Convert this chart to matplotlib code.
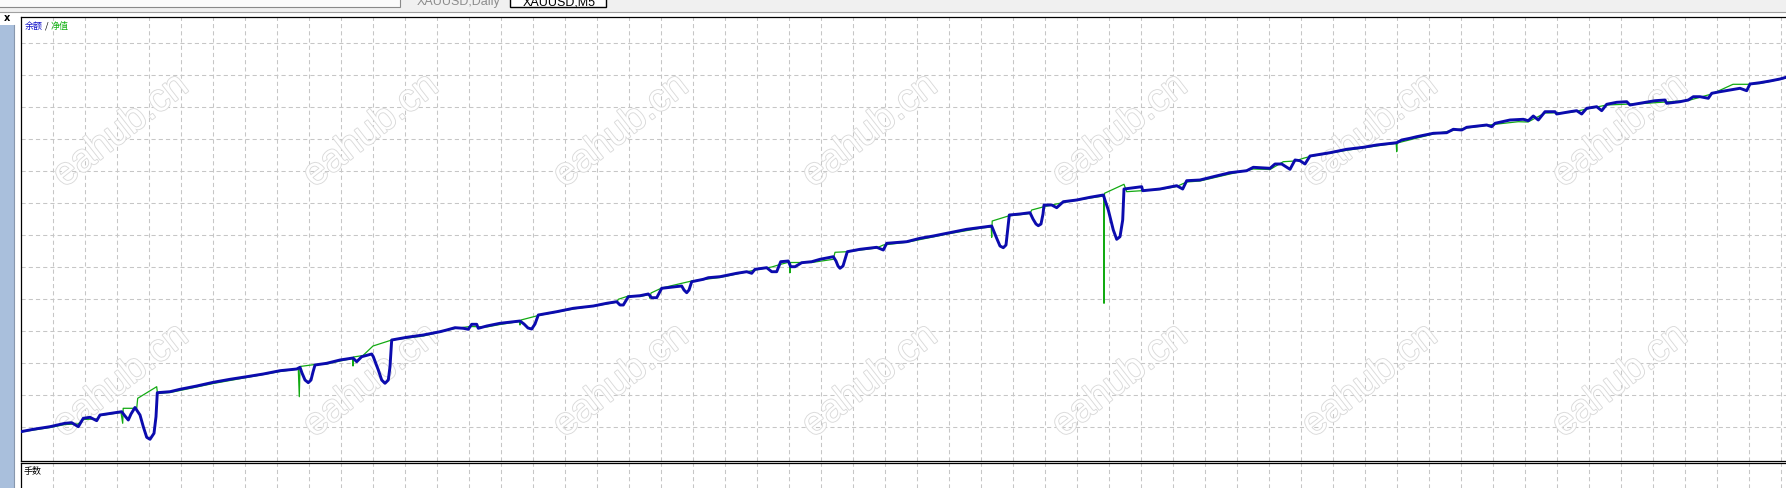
import numpy as np
import matplotlib.pyplot as plt
import matplotlib.patheffects as pe
from matplotlib.patches import Rectangle

W, H = 1786, 488

# balance curve (blue): bar position / balance level
bal_x = [20.7, 33.3, 50, 65, 71.7, 78.3, 83.3, 90, 96.7, 100, 113, 121.7, 125, 128.3, 131,
         135, 140, 143.3, 146.7, 150, 154, 156, 157.3, 170, 180, 196.7, 213.3, 230, 246.7,
         263.3, 280, 296.7, 300, 302, 305, 308.3, 311, 313, 315, 326.7, 340, 353, 356.7,
         361.7, 371.7, 373.3, 378.3, 381.7, 385, 388.3, 390, 391.7, 406.7, 423.3, 440,
         446.7, 455, 463.3, 468.3, 471.7, 476.7, 478.3, 486.7, 500, 520, 524, 528, 531.7,
         535, 538.3, 556.7, 573.3, 593.3, 606.7, 616.7, 620, 623.3, 628.3, 640, 648.3,
         651.7, 656.7, 661.7, 681.7, 684, 686.7, 689, 691.7, 703.3, 708.3, 720, 736.7,
         746.7, 751.7, 755, 766.7, 771.7, 776.7, 780.7, 788.3, 790.7, 795, 801.7, 811.7,
         820, 833.3, 836, 838, 840, 843, 847.3, 860, 876.7, 883.3, 886.7, 906.7, 920,
         933.3, 950, 966.7, 981.7, 991.7, 996.7, 1000, 1003.3, 1006, 1007.3, 1009.3, 1020,
         1030, 1033, 1036, 1038.3, 1041, 1043, 1044, 1051.7, 1056.7, 1063.3, 1076.7, 1090,
         1103.3, 1108.3, 1113.3, 1116.7, 1120, 1122.7, 1124, 1141.7, 1142.7, 1160, 1176.7,
         1182.7, 1186.7, 1200, 1213.3, 1230, 1246.7, 1253.3, 1270, 1275, 1281.7, 1290,
         1295, 1300, 1305, 1310, 1330, 1346.7, 1363.3, 1376.7, 1385, 1396.7, 1401.7, 1410,
         1416.7, 1433.3, 1446.7, 1453.3, 1461.7, 1466.7, 1486.7, 1491.7, 1495, 1510,
         1523.3, 1528.3, 1533.3, 1538.3, 1545, 1555, 1556.7, 1570, 1576.7, 1581.7, 1586.7,
         1596.7, 1601.7, 1606.7, 1616.7, 1626.7, 1630, 1643.3, 1655, 1665, 1666.7, 1680,
         1688.3, 1693.3, 1700, 1708.3, 1711.7, 1720, 1730, 1740, 1746.7, 1750, 1760, 1770,
         1780, 1786]
bal_y = [28.3, 30.7, 33.3, 36.7, 37.3, 33.3, 41.7, 42.7, 39.3, 45, 47, 48.3, 44, 40, 46,
         52.5, 45, 33.3, 22.7, 20.7, 26.7, 43.3, 67.3, 68.3, 70.7, 74, 77.7, 80.7, 83.3,
         86, 89.3, 91, 92.7, 87, 80, 77.3, 80, 88, 95, 96.7, 100, 102, 98.3,
         103.3, 106, 103.3, 90, 80, 76.7, 80, 93.3, 120, 122.7, 125, 128.3,
         130, 132.3, 131.7, 130.7, 135.7, 135.7, 131.7, 134, 136.7, 139, 136, 132, 131,
         136, 145, 148.3, 151.7, 154, 156.7, 158.3, 155, 155, 163.3, 164.3, 166,
         162.3, 162.3, 171.7, 174, 170, 167.3, 170, 178.3, 180.7, 182.3, 183.3, 186.7,
         188.3, 186.7, 190.7, 192.3, 188.3, 188.3, 198.3, 199, 193.3, 193.3, 197.3, 198.3,
         200.7, 203.3, 199, 194, 191.7, 194, 208.3, 210.7, 212.7, 210, 216.7, 218.3, 221.7,
         224, 227.3, 230.7, 232.7, 234, 221.7, 214, 212.3, 215, 226.7, 245, 246,
         247.3, 241, 236, 234.3, 236, 246, 255, 255, 252.3, 258.3, 260, 262.7,
         265, 250, 230, 220.7, 223.3, 240, 271, 273.3, 269.3, 271, 274.3,
         271, 279.3, 280, 283.3, 287.3, 289.3, 292.7, 291.7, 296, 296, 290.7,
         300, 299.3, 296, 304, 307.3, 310.7, 312.7, 315, 316, 317.3, 320, 321.7,
         323.3, 326.7, 327.3, 330.7, 330, 332.7, 335, 333.3, 336.7, 340,
         340.7, 339.3, 344, 340, 348.3, 348.3, 346, 348.3, 349.3, 346, 351.7,
         353.3, 349.3, 355.7, 357.7, 358.3, 355, 357.3, 359.3, 360, 356.7, 358.3,
         360, 363.3, 363.3, 361.7, 366.7, 368.3, 370, 371.7, 369.3, 376, 377.3, 379,
         381, 382.7]

# equity curve (green)
eq_x = [20.7, 50, 65, 78, 83.3, 96.7, 100, 121, 122.7, 123.2, 136.7, 137.7, 156.7, 157.5,
        170, 180, 213.3, 246.7, 280, 298.3, 299.3, 300, 315, 326.7, 340, 352.5, 353, 353.5,
        363, 373, 391.7, 423.3, 455, 470, 486.7, 500, 519.5, 520, 521, 538.3, 573.3, 606.7,
        617, 618.3, 628.3, 640, 649.5, 650, 651, 661.7, 681.7, 691.7, 720, 736.7, 755,
        771.7, 780, 789.5, 790, 790.5, 811.7, 833.3, 835, 847.3, 876.7, 883.3, 906.7, 950,
        981.7, 991.2, 991.7, 992.2, 1008.3, 1030, 1031.7, 1044, 1063.3, 1090, 1103.8, 1104,
        1104.5, 1124, 1126.7, 1141.7, 1160, 1176.7, 1186.7, 1200, 1230, 1253.3, 1270,
        1283.3, 1295, 1303.3, 1310, 1346.7, 1385, 1396.2, 1396.7, 1397.2, 1433.3, 1466.7,
        1495, 1518.3, 1528, 1545, 1570, 1606.7, 1643.3, 1688.3, 1711.7, 1733, 1748, 1760,
        1786]
eq_y = [28, 32.5, 35.5, 36, 40.5, 41, 44.5, 47.5, 36.7, 51.7, 51.7, 61.7, 73.3, 66.5,
        67.5, 69.5, 76.5, 82.5, 88.5, 91, 63.3, 93.5, 95.5, 96, 99, 101.5, 94, 103,
        104.5, 114, 120, 124, 131.5, 133.5, 133, 135.5, 138.5, 135, 140, 144.5, 151, 156,
        158, 160.7, 164, 163.5, 165.5, 161.7, 167, 172, 176.7, 179, 182.5, 186, 190,
        193, 195.5, 198, 187.3, 197.5, 197.5, 200.7, 207.7, 208.3, 212, 215, 217.7, 226.5,
        232, 233, 222.7, 239, 244, 246.5, 250, 253.3, 257.5, 262, 264, 156.7,
        266.7, 275.7, 268.3, 269.3, 270.5, 273.5, 278, 279, 286, 291, 290.5,
        298.3, 299, 301.7, 303.5, 309.7, 315.3, 316.5, 308.3, 317, 326, 332,
        335.7, 338.3, 338, 347, 347.5, 355, 356.5, 359.5, 366, 375.7, 375.7, 376.5,
        382]

legend_parts = ["余额", "/", "净值"]
sub_label = "手数"
tab_labels = ["XAUUSD,Daily", "XAUUSD,M5"]
watermark = "eahub.cn"

CJK = ["Noto Sans CJK SC", "DejaVu Sans"]
plt.rcParams["lines.scale_dashes"] = False

fig = plt.figure(figsize=(W / 100, H / 100), dpi=100)

# background layer in pixel coordinates (window chrome)
bg = fig.add_axes([0, 0, 1, 1])
bg.set_xlim(0, W)
bg.set_ylim(H, 0)
bg.axis("off")

bg.add_patch(Rectangle((0, 0), W, 12.3, color="#f0f0f0", lw=0))
bg.plot([0, W], [12.3, 12.3], color="#a0a0a0", lw=0.8)
bg.add_patch(Rectangle((-2, -5), 402, 11.7, fc="#fbfbfb", ec="#8a8a8a", lw=0.8))
bg.add_patch(Rectangle((510, -5), 96, 11.7, fc="white", ec="black", lw=1.0))
bg.text(417, 5.5, tab_labels[0], color="#8c8c8c", fontsize=9, family="Liberation Sans",
        va="baseline")
bg.text(523, 5.5, tab_labels[1], color="black", fontsize=9, family="Liberation Sans",
        va="baseline")

bg.add_patch(Rectangle((0, 25), 13.5, H - 25, fc="#a9bfdc", lw=0))
bg.plot([14.2, 14.2], [25, H], color="#8797ad", lw=0.8)
bg.text(6.5, 18, "x", fontsize=7, fontweight="bold", ha="center", va="center",
        family="DejaVu Sans")

# main equity panel
L, T, B = 20.7, 16.7, 460.5
ax = fig.add_axes([L / W, 1 - B / H, 1 - L / W, (B - T) / H])
ax.set_xlim(L, W)
ax.set_ylim(460 - B, 460 - T)
ax.set_xticks(np.arange(52.7, W, 32))
ax.set_yticks(np.arange(32.7, 443, 32))
ax.tick_params(length=0, labelbottom=False, labelleft=False)
ax.grid(True, color="#c6c6c6", linestyle=(0, (3, 2.2)), linewidth=0.75)
ax.set_axisbelow(True)
for side in ["left", "top", "bottom"]:
    ax.spines[side].set_color("black")
    ax.spines[side].set_linewidth(0.9)
ax.spines["right"].set_visible(False)

# watermarks
wm_cols = [121, 371, 621, 870, 1120, 1370, 1620]
for cy in [131, 381]:
    for cx in wm_cols:
        ax.text(cx, cy, watermark, transform=bg.transData, rotation=38,
                ha="center", va="center", fontsize=28, color="white",
                family="Liberation Sans", zorder=1.5,
                path_effects=[pe.withStroke(linewidth=1.3, foreground="#dadada")])

ax.plot(eq_x, eq_y, color="#12aa12", lw=0.9, zorder=2)
ax.plot(bal_x, bal_y, color="#0b0bae", lw=2.1, zorder=3)

ax.text(24.5, 26, legend_parts[0], transform=bg.transData, color="#1010c8",
        fontsize=6.5, family=CJK, va="center", zorder=5)
ax.text(44.5, 26, legend_parts[1], transform=bg.transData, color="black",
        fontsize=6.5, family=CJK, va="center", zorder=5)
ax.text(51, 26, legend_parts[2], transform=bg.transData, color="#10b010",
        fontsize=6.5, family=CJK, va="center", zorder=5)

# lots sub panel
sub = fig.add_axes([L / W, 0, 1 - L / W, (H - 463.2) / H])
sub.set_xlim(L, W)
sub.set_ylim(0, 1)
sub.set_xticks(np.arange(52.7, W, 32))
sub.set_yticks([])
sub.tick_params(length=0, labelbottom=False, labelleft=False)
sub.grid(True, axis="x", color="#c6c6c6", linestyle=(0, (3, 2.2)), linewidth=0.75)
sub.set_axisbelow(True)
for side in ["left", "top"]:
    sub.spines[side].set_color("black")
    sub.spines[side].set_linewidth(0.9)
sub.spines["right"].set_visible(False)
sub.spines["bottom"].set_visible(False)
sub.text(24, 471.5, sub_label, transform=bg.transData, color="black",
         fontsize=6.5, family=CJK, va="center", zorder=5)

fig.savefig("out.png", dpi=100)
